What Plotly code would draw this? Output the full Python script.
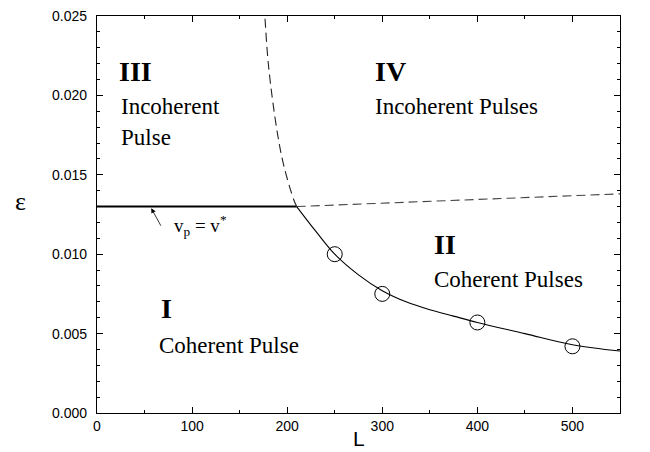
import plotly.graph_objects as go

# Data
flat_L = [0, 210]
flat_eps = [0.013, 0.013]

coh_L = [210, 230, 250, 275, 300, 325, 350, 375, 400, 450, 500, 550]
coh_eps = [0.0130, 0.01145, 0.0100, 0.0087, 0.0077, 0.0070, 0.0065, 0.0061,
           0.0057, 0.0050, 0.0043, 0.0039]

upper_L = [210, 550]
upper_eps = [0.0130, 0.0138]

steep_L = [210, 207, 196.8, 189.7, 180.5, 176.5, 175.8]
steep_eps = [0.0130, 0.01341, 0.01549, 0.01763, 0.02179, 0.0250, 0.0256]

circ_L = [250, 300, 400, 500]
circ_eps = [0.0100, 0.0075, 0.0057, 0.0042]

x_ticks = [0, 100, 200, 300, 400, 500]
y_ticks = [0.000, 0.005, 0.010, 0.015, 0.020, 0.025]

fig = go.Figure()
fig.add_trace(go.Scatter(x=flat_L, y=flat_eps, mode="lines",
                         line=dict(color="black", width=2)))
fig.add_trace(go.Scatter(x=coh_L, y=coh_eps, mode="lines", line_shape="spline",
                         line=dict(color="black", width=1.1)))
fig.add_trace(go.Scatter(x=upper_L, y=upper_eps, mode="lines",
                         line=dict(color="#444", width=1.1, dash="9px,5px")))
fig.add_trace(go.Scatter(x=steep_L, y=steep_eps, mode="lines", line_shape="spline",
                         line=dict(color="#222", width=1.1, dash="9px,5px")))
fig.add_trace(go.Scatter(x=circ_L, y=circ_eps, mode="markers",
                         marker=dict(symbol="circle-open", size=15,
                                     color="black", line=dict(width=1, color="black"))))

serif = "Liberation Serif"
txt = dict(color="black", family=serif, size=23)
bold = dict(color="black", family=serif, size=28, weight="bold")

def lab(x, y, t, f):
    fig.add_annotation(x=x, y=y, text=t, showarrow=False, xanchor="left",
                       yanchor="middle", font=f)

lab(21, 0.0215, "<b>III</b>", bold)
lab(23, 0.01927, "Incoherent", txt)
lab(23, 0.01738, "Pulse", txt)
lab(290, 0.0215, "<b>IV</b>", bold)
lab(290, 0.01927, "Incoherent Pulses", txt)
lab(352, 0.01058, "<b>II</b>", bold)
lab(352, 0.00841, "Coherent Pulses", txt)
lab(65, 0.00655, "<b>I</b>", bold)
lab(63, 0.00422, "Coherent Pulse", txt)
lab(79, 0.01178, "v<sub>p</sub> = v<sup>*</sup>", dict(color="black", family=serif, size=19))

fig.add_annotation(x=57, y=0.0129, ax=68, ay=0.0117, axref="x", ayref="y",
                   text="", showarrow=True, arrowhead=2, arrowsize=1.2,
                   arrowwidth=0.8, arrowcolor="black")

# axis labels
fig.add_annotation(x=-0.147, y=0.534, xref="paper", yref="paper", text="ε", showarrow=False,
                   xanchor="center", yanchor="middle",
                   font=dict(family=serif, size=26, color="black"))
fig.add_annotation(x=275, y=-0.0975, xref="x", yref="paper", text="L", showarrow=False,
                   xanchor="center", yanchor="bottom",
                   font=dict(family="Liberation Sans", size=21, color="black"))

axis_common = dict(showgrid=False, zeroline=False, showline=True, linecolor="black",
                   linewidth=1.2, mirror="allticks", ticks="inside", tickcolor="black",
                   ticklen=6, tickwidth=1, automargin=False,
                   tickfont=dict(family="Liberation Sans", size=14, color="black"))

fig.update_xaxes(range=[0, 550], tickvals=x_ticks, ticktext=[str(v) for v in x_ticks],
                 minor=dict(dtick=50, tick0=0, ticks="inside", ticklen=3, tickcolor="black"),
                 **axis_common)
fig.update_yaxes(range=[0, 0.025], tickvals=y_ticks, ticktext=[f"{v:.3f}" for v in y_ticks],
                 minor=dict(dtick=0.001, tick0=0, ticks="inside", ticklen=3, tickcolor="black"),
                 ticklabelstandoff=6,
                 **axis_common)

fig.update_layout(width=650, height=452, margin=dict(l=97, r=30, t=16, b=39),
                  paper_bgcolor="white", plot_bgcolor="white", showlegend=False)

fig.write_html("out.html")
